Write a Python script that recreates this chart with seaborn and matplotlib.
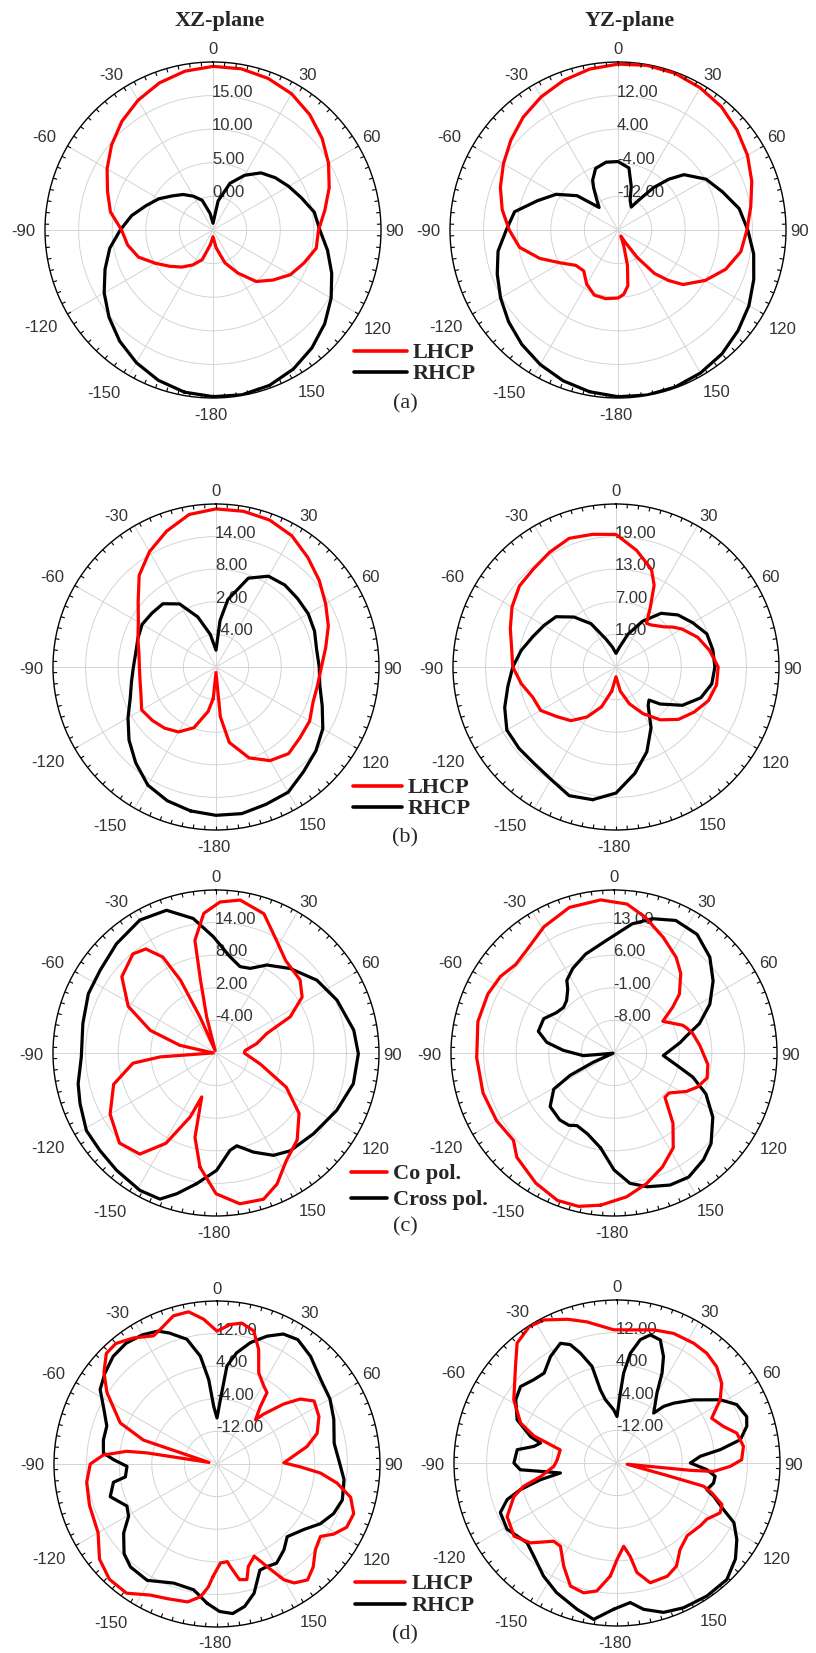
"""
Radiation patterns (LHCP / RHCP, co / cross pol.) in the XZ and YZ planes.
Run: python plot.py
"""

import numpy as np
import matplotlib
matplotlib.use("Agg")
import matplotlib.pyplot as plt
from matplotlib.lines import Line2D
from matplotlib.transforms import offset_copy
import seaborn as sns

sns.set_style("white")
plt.rcParams["font.family"] = ["Liberation Sans", "DejaVu Sans"]

W, H = 816, 1653
SERIF = ["Liberation Serif", "DejaVu Serif"]

# ---------------- data (angle in deg, gain in dB) ----------------
G10 = [-170, -160, -150, -140, -130, -120, -110, -100, -90, -80, -70, -60, -50, -40, -30, -20,
       -10, 0, 10, 20, 30, 40, 50, 60, 70, 80, 90, 100, 110, 120, 130, 140, 150, 160, 170, 180]

# (a) XZ
a_xz_lhcp_deg = G10
a_xz_lhcp = [-2.8, -0.3, 1.0, 2.2, 3.4, 4.9, 6.8, 7.9, 8.6, 10.5, 11.7, 13.2, 14.7, 16.1, 17.3, 18.3,
             19.0, 19.35, 19.35, 19.0, 18.4, 17.4, 16.2, 14.85, 13.4, 11.9, 10.7, 10.6, 9.4, 8.3, 6.6,
             5.0, 2.4, 0.2, -2.3, -4.0]
a_xz_rhcp_deg = G10
a_xz_rhcp = [19.5, 18.8, 17.8, 16.6, 15.2, 13.7, 12.1, 10.6, 8.8, 7.3, 5.6, 4.3, 2.9, 1.9, 0.8, -0.3,
             -2.5, -4.0, -0.6, 2.4, 4.4, 6.1, 7.1, 8.0, 9.0, 10.3, 10.9, 12.3, 13.8, 15.3, 16.7, 17.9,
             18.9, 19.6, 19.9, 19.8]

# (a) YZ
a_yz_lhcp_deg = [-170, -160, -150, -140, -130, -120, -110, -100, -90, -80, -70, -60, -50, -40, -30,
                 -20, -10, 0, 10, 20, 30, 40, 50, 60, 70, 80, 90, 100, 110, 120, 130, 135, 140, 145,
                 150, 155, 160, 165, 170, 175, 180]
a_yz_lhcp = [-3.4, -3.5, -5.1, -7.3, -6.9, -4.3, -0.2, 3.8, 5.9, 8.0, 9.8, 11.5, 13.3, 15.1, 16.6,
             17.9, 18.9, 19.5, 19.8, 19.7, 19.1, 18.3, 17.0, 15.6, 13.9, 12.1, 10.7, 9.7, 7.3, 4.0,
             0.2, -3.0, -6.5, -12.0, -16.8, -18.4, -16.0, -11.3, -6.5, -4.6, -3.8]
a_yz_rhcp_deg = [-170, -160, -150, -140, -130, -120, -110, -100, -90, -80, -70, -60, -50, -40, -35,
                 -30, -27, -20, -10, 0, 10, 17, 22, 30, 35, 40, 45, 50, 60, 70, 80, 90, 100, 110,
                 120, 130, 140, 150, 160, 170, 180]
a_yz_rhcp = [19.1, 18.2, 17.0, 15.6, 14.0, 12.3, 10.6, 9.0, 6.6, 5.0, 0.4, -3.0, -7.3, -13.0, -11.2,
             -8.4, -6.7, -4.4, -3.6, -3.7, -5.0, -9.2, -12.3, -13.7, -11.2, -6.8, -2.9, 0.5, 4.2,
             6.5, 9.3, 10.9, 12.8, 14.4, 16.0, 17.3, 18.5, 19.3, 19.8, 19.9, 19.7]

# (b) XZ
b_xz_lhcp_deg = [-175] + G10[:-1] + [175, 180]
b_xz_lhcp = [-4.2, -1.7, 1.9, 3.8, 4.7, 5.3, 5.8, 4.7, 4.2, 4.1, 4.4, 5.3, 6.5, 8.7, 12.0, 14.5,
             16.6, 18.5, 19.1, 19.1, 18.8, 17.9, 16.3, 14.8, 13.3, 12.0, 10.5, 9.4, 9.0, 9.0, 9.9,
             10.2, 10.8, 9.9, 7.8, 4.1, -0.8, -9.0]
b_xz_rhcp_deg = G10[:18] + [5] + G10[18:]
b_xz_rhcp = [16.9, 16.2, 15.1, 13.0, 10.9, 8.7, 6.8, 5.8, 5.2, 5.0, 5.3, 5.7, 5.4, 5.2, 3.4, -0.2,
             -3.9, -6.9, -1.4, 2.6, 7.4, 9.3, 9.7, 9.6, 9.6, 9.3, 8.8, 9.0, 9.4, 10.8, 12.7, 14.0,
             15.1, 16.6, 16.9, 17.4, 17.3]

# (b) YZ
b_yz_lhcp_deg = [-170, -160, -150, -140, -130, -120, -110, -100, -90, -80, -70, -60, -50, -40, -30,
                 -20, -10, 0, 10, 20, 25, 30, 35, 40, 50, 55, 60, 70, 80, 90, 100, 110, 120, 130,
                 140, 150, 160, 170, 180]
b_yz_lhcp = [-0.5, 2.8, 5.6, 7.9, 9.2, 11.0, 11.3, 12.7, 14.0, 14.5, 15.7, 17.1, 18.2, 18.6, 19.4,
             20.2, 19.8, 19.4, 16.8, 14.1, 11.6, 7.6, 4.8, 5.1, 6.5, 7.8, 9.0, 11.0, 12.5, 13.8,
             13.8, 13.1, 11.6, 10.0, 7.7, 4.9, 2.2, -0.5, -3.2]
b_yz_rhcp_deg = [-170, -160, -150, -140, -130, -120, -110, -100, -90, -80, -70, -60, -50, -40, -30,
                 -20, -10, 0, 10, 20, 30, 40, 50, 60, 70, 80, 90, 100, 110, 120, 130, 135, 140,
                 150, 160, 170, 180]
b_yz_rhcp = [19.8, 20.2, 18.9, 18.3, 18.3, 18.2, 16.8, 15.2, 14.0, 12.7, 11.3, 10.3, 9.4, 7.0, 4.2,
             0.5, -1.3, -2.5, -1.3, 1.4, 4.7, 7.9, 9.9, 11.3, 12.8, 13.1, 13.2, 12.9, 11.6, 9.1,
             5.6, 3.6, 4.2, 7.9, 11.6, 14.9, 18.2]

# (c) XZ
c_xz_co_deg = [-172, -166, -162, -158, -151, -143, -133, -120, -107, -97, -94, -89, -78, -71, -62,
               -51, -40, -34, -29, -26, -24, -19, -14.5, -12, -10.6, -5, 1.5, 9, 19, 28, 37, 49,
               57, 64, 69, 77, 85, 90, 104, 116, 126, 137, 147, 155, 162, 171, 180]
c_xz_co = [11.2, 6.0, -1.5, 2.7, 9.0, 13.3, 14.3, 12.5, 9.7, 5.4, 0.3, -9.5, -3.2, 2.8, 8.3, 12.3,
           13.8, 13.1, 10.2, 4.9, -2.7, -9.5, -3.1, 3.7, 11.1, 15.8, 17.8, 18.5, 17.1, 13.6, 11.3,
           10.5, 8.9, 5.2, 0.0, -2.3, -4.6, -4.8, -1.6, 4.4, 8.9, 11.9, 13.7, 16.6, 18.3, 18.1,
           15.9]
c_xz_cross_deg = [-171.6, -164.4, -159, -151, -139.7, -130, -120.9, -110.4, -102.6, -91.7, -77.5,
                  -65.1, -54.5, -42.3, -29.8, -19.1, -9.6, -1.3, 8.3, 15.6, 22, 30, 41.3, 54.2,
                  66.4, 80.6, 90.3, 102.6, 115.4, 129.6, 142.8, 150.7, 159.3, 167.4, 171.8, 179.7]
c_xz_cross = [14.3, 16.9, 18.8, 18.9, 18.3, 17.9, 17.8, 16.7, 16.0, 14.8, 15.1, 15.9, 16.2, 17.2,
              18.2, 17.8, 15.1, 11.4, 7.9, 6.5, 6.8, 8.7, 10.7, 12.9, 14.3, 15.7, 16.2, 15.9, 14.6,
              13.3, 12.6, 11.6, 9.5, 7.5, 8.1, 11.6]

# (c) YZ
c_yz_co_deg = [-175, -167, -159, -149, -137, -131, -120, -107, -92, -77, -65, -56, -48, -41, -29,
               -17, -5, 5, 13, 23, 33, 40, 48, 52, 57, 68, 71, 76, 85, 97, 105, 112, 118, 126, 131,
               140, 148, 157, 166, 175]
c_yz_co = [17.8, 18.8, 18.9, 17.6, 15.6, 13.6, 14.1, 14.4, 14.5, 15.0, 14.9, 14.4, 13.4, 13.9, 16.0,
           17.7, 18.0, 17.1, 14.9, 12.0, 9.5, 7.3, 3.9, 1.0, -2.5, 0.9, 1.5, 2.4, 3.5, 5.3, 5.7,
           4.4, 2.6, -0.4, -0.5, 4.7, 9.0, 11.6, 13.9, 16.0]
c_yz_cross_deg = [-172, -162, -153, -148, -141, -130, -121, -117, -114, -105, -95, -87, -81, -74,
                  -64, -55, -48, -42, -36, -33, -26, -16, -4, 8, 16, 25, 35, 45, 54, 63, 71, 77,
                  81, 93, 101, 107, 114, 123, 133, 140, 149, 157, 166, 173, 180]
c_yz_cross = [5.6, 3.3, 2.5, 3.3, 3.5, 2.9, 0.1, -4.4, -10.1, -14.8, -8.4, -4.1, -0.4, 1.9, 1.8,
              0.1, -0.4, 0.2, 1.9, 3.6, 5.2, 7.1, 9.2, 13.0, 15.0, 16.4, 16.1, 14.1, 11.3, 8.1,
              4.4, 0.9, -0.6, -4.4, -1.3, 2.7, 6.6, 10.3, 13.5, 14.9, 16.1, 15.8, 14.6, 13.2,
              10.1]

# (d) XZ
d_xz_lhcp_deg = [-178, -176, -173, -168, -160, -153, -145, -137, -129, -120, -108, -98, -90, -85.5,
                 -82, -81, -79, -72, -67, -57, -51, -45, -40, -33.5, -26.4, -23, -16.4, -10.6,
                 -5.3, 0, 5.5, 10, 15.4, 20, 24.6, 31, 35, 37, 41, 43, 48, 52, 57, 65, 73, 79, 84,
                 89, 92, 95, 99, 104, 110, 116, 121, 125, 131, 137, 142, 147, 150, 154, 158, 163,
                 165.5, 169, 172.6, 174, 178]
d_xz_lhcp = [7.6, 10.2, 12.8, 14.6, 15.2, 16.1, 18.7, 18.7, 17.1, 13.7, 12.9, 12.3, 11.1, 8.0, 2.4,
             -2.5, -18.0, -1.0, 5.8, 12.2, 15.7, 18.4, 18.6, 17.1, 15.1, 15.8, 17.9, 18.0, 15.7,
             12.6, 14.4, 15.1, 13.9, 9.9, 4.6, 2.3, 1.4, -2.3, -5.6, -3.3, 2.0, 5.9, 8.4, 7.6,
             5.7, 2.5, -1.1, -3.6, 0.5, 5.5, 9.8, 13.8, 15.7, 15.4, 13.4, 11.0, 12.0, 14.6, 16.1,
             14.8, 12.8, 8.0, 4.4, 6.3, 9.3, 8.9, 5.4, 4.1, 4.3]
d_xz_rhcp_deg = [-176, -169.5, -160, -149, -140, -134, -126.5, -120.6, -115, -107, -100, -98,
                 -91.5, -87.6, -84.5, -78, -71, -64, -57.5, -51, -44, -37, -30, -24, -20, -13.6,
                 -8.8, -5.6, -3.3, 0, 3, 4.7, 5.8, 10, 15.4, 21.4, 27, 33, 41, 51, 60, 69, 80, 91,
                 97, 106, 113, 120, 127, 136, 142, 149, 154, 158, 164, 169, 174, 179]
d_xz_rhcp = [14.3, 11.4, 11.1, 13.3, 13.0, 11.7, 8.5, 5.2, 4.4, 7.4, 5.8, 2.7, 2.1, 5.4, 8.0, 8.5,
             8.6, 10.9, 14.0, 15.4, 16.7, 17.1, 16.6, 15.7, 14.2, 11.5, 6.8, 0.8, -5.8, -8.7,
             -4.2, 0.0, 4.2, 7.7, 10.9, 13.7, 15.8, 16.4, 15.0, 12.8, 12.0, 10.7, 9.2, 10.3,
             11.4, 12.0, 11.1, 9.3, 6.7, 4.8, 6.7, 8.4, 8.0, 8.1, 13.0, 15.6, 16.9, 16.2]

# (d) YZ
d_yz_lhcp_deg = [-176.6, -171, -165.6, -159.3, -152.7, -145.8, -141, -132.7, -125.4, -116, -108,
                 -104, -100, -93, -87, -77, -74, -72, -67.5, -58.5, -46.4, -39.8, -32.7, -27, -19,
                 -12, -1.4, 7, 15.4, 23.6, 32.6, 39.3, 46, 52.7, 58.5, 64.7, 71, 76, 82.5, 88.5,
                 91.7, 95, 95.7, 97, 104, 105, 107.5, 111.6, 115.8, 122, 127, 136, 144, 150, 156,
                 164.5, 169.7, 172, 175.4, 180]
d_yz_lhcp = [7.8, 11.8, 12.9, 12.3, 8.5, 4.7, 4.7, 8.9, 11.0, 10.0, 6.6, 3.6, -1.0, -4.5, -5.3,
             -5.7, -2.2, 1.4, 5.6, 9.7, 14.4, 18.3, 19.8, 19.4, 17.3, 15.4, 12.7, 12.9, 13.9, 14.7,
             14.9, 14.8, 14.0, 12.3, 9.7, 5.7, 7.6, 10.3, 11.3, 10.6, 7.8, 3.8, -2.0, -17.5, -7.3,
             2.0, 4.4, 7.7, 8.1, 6.0, 5.6, 4.8, 6.3, 9.2, 10.4, 10.5, 7.3, 3.1, 0.5, 3.7]
d_yz_rhcp_deg = [-178.7, -171.5, -164.7, -155, -147, -138, -131.6, -121, -113, -108.4, -105.4,
                 -102.3, -100, -96.2, -94, -90, -82.4, -78.7, -75.4, -73, -66.6, -58, -51.6, -45,
                 -39, -32, -25.3, -21.5, -18.4, -14.5, -12.8, -10.4, -3.6, 0, 2.7, 4.2, 6.9, 10.7,
                 14.6, 19.4, 23.6, 26.6, 29.7, 36.3, 39.5, 43.4, 50.4, 58.5, 64, 70.3, 74.2, 79.3,
                 82.6, 85.4, 90, 94.2, 97.7, 101.7, 106.5, 109, 113.6, 117, 122.6, 129, 136.7,
                 146, 155.3, 162.7, 169.7, 174.6]
d_yz_rhcp = [15.9, 18.8, 17.2, 15.1, 13.1, 10.6, 9.5, 11.5, 11.1, 8.4, 4.6, -0.8, -5.9, -1.1, 3.8,
             5.3, 4.7, 0.8, -0.6, 2.2, 6.7, 9.3, 10.2, 8.9, 8.4, 10.8, 12.5, 11.2, 8.4, 4.5, -1.6,
             -4.2, -6.9, -8.6, -2.9, 2.1, 7.1, 10.8, 12.5, 12.0, 8.5, 4.7, -0.2, -4.8, -2.0, 0.2,
             4.3, 9.7, 12.7, 13.8, 13.1, 10.8, 5.6, 0.5, -2.0, 2.1, 4.3, 4.2, 3.0, 5.1, 8.5,
             12.2, 14.9, 17.4, 19.3, 19.4, 19.1, 18.4, 16.5, 14.4]

THETA_LABELS = [0, 30, 60, 90, 120, 150, 180, -150, -120, -90, -60, -30]
LEGEND_CP = ["LHCP", "RHCP"]
LEGEND_POL = ["Co pol.", "Cross pol."]

# ---------------- layout (pixels of the 816x1653 canvas) ----------------
# label centre offset from the rim point, image px (dx right, dy down)
TH_OFF = {0: (0, -12), 30: (11, -9), 60: (13, -8), 90: (14, 2), 120: (19, 15), 150: (15, 17),
          180: (-2, 17), -150: (-25, 18), -120: (-27, 14), -90: (-22, 2), -60: (-23, -8),
          -30: (-18, -9)}
TICK_PX = 4

fig = plt.figure(figsize=(W / 100, H / 100), dpi=100)
fig.patch.set_facecolor("white")


def polar_panel(cx, cy, rad, rmin, rmax, step, curves):
    ax = fig.add_axes([(cx - rad) / W, 1 - (cy + rad) / H, 2 * rad / W, 2 * rad / H],
                      projection="polar")
    for deg, val, col in curves:
        th = np.radians(list(deg) + [deg[0] + 360])
        r = list(val) + [val[0]]
        sns.lineplot(x=th, y=r, ax=ax, sort=False, estimator=None, color=col,
                     linewidth=2.3, zorder=3, legend=False)
    ax.set_xlabel("")
    ax.set_ylabel("")
    ax.set_theta_zero_location("N")
    ax.set_theta_direction(-1)
    ax.set_xlim(0, 2 * np.pi)
    ax.set_ylim(rmin, rmax)
    rings = np.arange(rmin + step, rmax - step / 2, step)
    ax.set_yticks(rings)
    ax.set_yticklabels([])
    ax.tick_params(axis="y", length=0)
    ax.set_xticks(np.radians(np.arange(0, 360, 30)))
    ax.set_xticklabels([])
    ax.tick_params(axis="x", length=0)
    ax.grid(True, which="major", color="#d4d4d4", linewidth=0.7)
    ax.spines["polar"].set_color("black")
    ax.spines["polar"].set_linewidth(1.0)

    # inward rim ticks every 4 degrees
    dl = TICK_PX / rad * (rmax - rmin)
    ax.vlines(np.radians(np.arange(0, 360, 4)), rmax - dl, rmax, color="black",
              linewidth=0.8, zorder=4)
    ax.set_ylim(rmin, rmax)

    for ang in THETA_LABELS:
        dx, dy = TH_OFF[ang]
        ax.text(np.radians(ang), rmax, str(-180 if ang == 180 else ang),
                transform=offset_copy(ax.transData, fig=fig, x=dx, y=-dy, units="dots"),
                ha="center", va="center", fontsize=12, color="#333333", clip_on=False)
    for v in rings:
        ax.text(0, v, f"{v:.2f}",
                transform=offset_copy(ax.transData, fig=fig, x=-1, y=-1, units="dots"),
                ha="left", va="baseline", fontsize=12, color="#333333", zorder=2)
    return ax


def legend(x0, x1, xt, ys, labels):
    for y, lab, col in zip(ys, labels, ["red", "black"]):
        fig.add_artist(Line2D([x0 / W, x1 / W], [1 - y / H] * 2, color=col, lw=2.6,
                              transform=fig.transFigure))
        fig.text(xt / W, 1 - (y + 7) / H, lab, ha="left", va="baseline", fontsize=16,
                 fontweight="bold", family=SERIF)


RED, BLK = "red", "black"

polar_panel(213, 230, 168, -5, 20, 5,
            [(a_xz_rhcp_deg, a_xz_rhcp, BLK), (a_xz_lhcp_deg, a_xz_lhcp, RED)])
polar_panel(618, 230, 168, -20, 20, 8,
            [(a_yz_rhcp_deg, a_yz_rhcp, BLK), (a_yz_lhcp_deg, a_yz_lhcp, RED)])
polar_panel(216, 667, 163, -10, 20, 6,
            [(b_xz_rhcp_deg, b_xz_rhcp, BLK), (b_xz_lhcp_deg, b_xz_lhcp, RED)])
polar_panel(616, 667, 163, -5, 25, 6,
            [(b_yz_rhcp_deg, b_yz_rhcp, BLK), (b_yz_lhcp_deg, b_yz_lhcp, RED)])
polar_panel(216, 1053, 163, -10, 20, 6,
            [(c_xz_cross_deg, c_xz_cross, BLK), (c_xz_co_deg, c_xz_co, RED)])
polar_panel(614, 1053, 163, -15, 20, 7,
            [(c_yz_cross_deg, c_yz_cross, BLK), (c_yz_co_deg, c_yz_co, RED)])
polar_panel(217, 1464, 163, -20, 20, 8,
            [(d_xz_rhcp_deg, d_xz_rhcp, BLK), (d_xz_lhcp_deg, d_xz_lhcp, RED)])
polar_panel(617, 1463, 163, -20, 20, 8,
            [(d_yz_rhcp_deg, d_yz_rhcp, BLK), (d_yz_lhcp_deg, d_yz_lhcp, RED)])

fig.text(220 / W, 1 - 21 / H, "XZ-plane", ha="center", va="center", fontsize=16,
         fontweight="bold", family=SERIF)
fig.text(630 / W, 1 - 21 / H, "YZ-plane", ha="center", va="center", fontsize=16,
         fontweight="bold", family=SERIF)

legend(354, 407, 413, [351, 372], LEGEND_CP)
legend(353, 402, 408, [786, 807], LEGEND_CP)
legend(351, 387, 393, [1172, 1198], LEGEND_POL)
legend(355, 405, 412, [1582, 1604], LEGEND_CP)

for tag, y in [("(a)", 404), ("(b)", 838), ("(c)", 1227), ("(d)", 1635)]:
    fig.text(405 / W, 1 - y / H, tag, ha="center", va="center", fontsize=16, family=SERIF)

fig.savefig("out.png", dpi=100, facecolor="white")
print("[OK] Saved -> out.png")
